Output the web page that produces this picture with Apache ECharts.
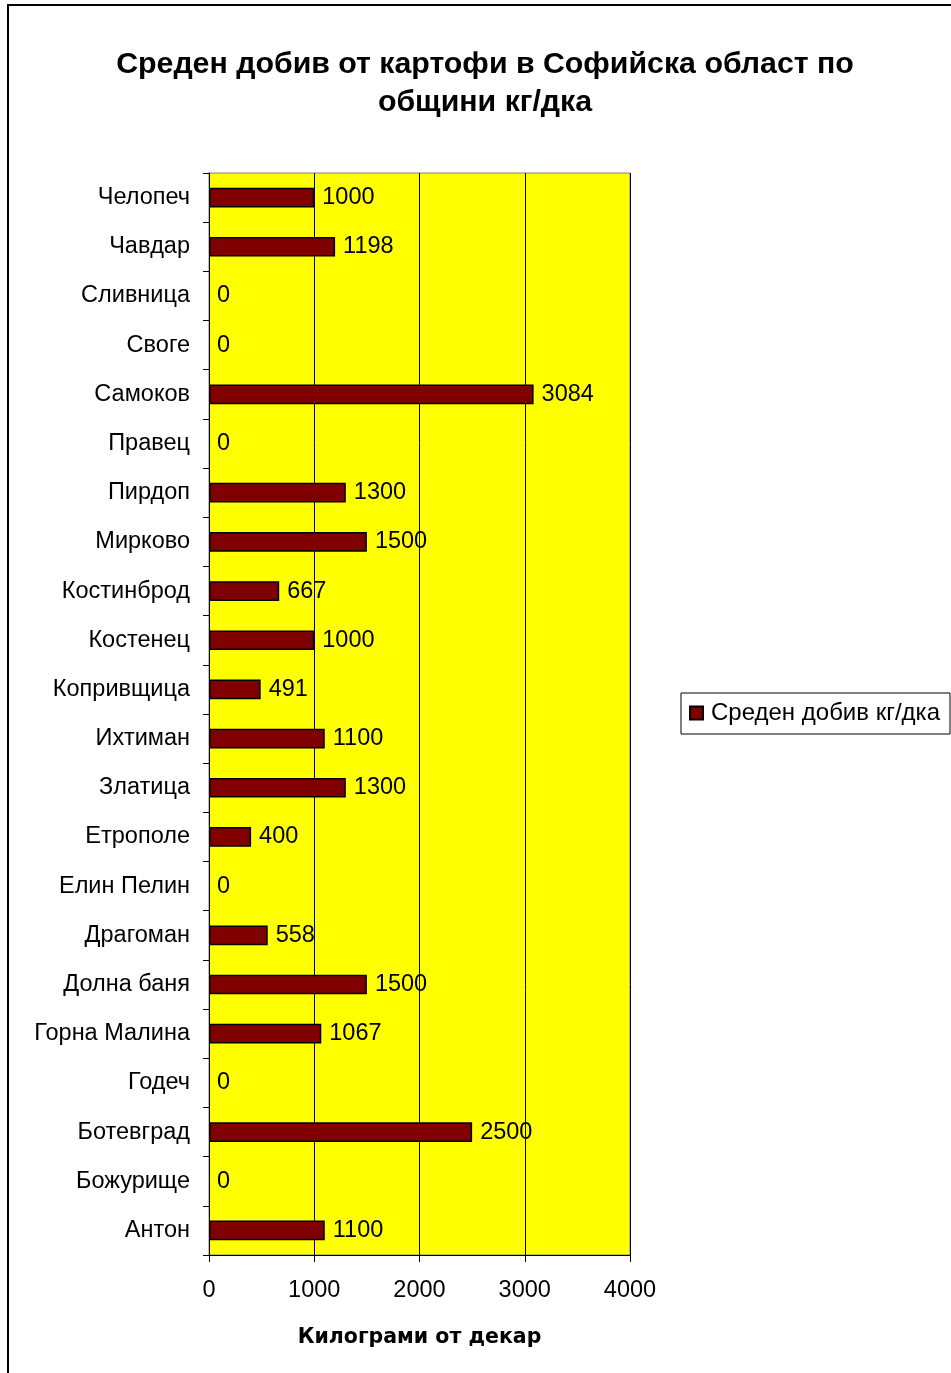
<!DOCTYPE html>
<html>
<head>
<meta charset="utf-8">
<script src="https://cdn.jsdelivr.net/npm/echarts@6/dist/echarts.min.js"></script>
<style>
html,body{margin:0;padding:0;background:#fff;}
#c{width:951px;height:1373px;}
</style>
</head>
<body>
<div id="c"></div>
<script>
const categories = ['Челопеч','Чавдар','Сливница','Своге','Самоков','Правец','Пирдоп','Мирково','Костинброд','Костенец','Копривщица','Ихтиман','Златица','Етрополе','Елин Пелин','Драгоман','Долна баня','Горна Малина','Годеч','Ботевград','Божурище','Антон'];
const values = [1000,1198,0,0,3084,0,1300,1500,667,1000,491,1100,1300,400,0,558,1500,1067,0,2500,0,1100];
const xTicks = [0,1000,2000,3000,4000];
const seriesName = 'Среден добив кг/дка';
const titleText = 'Среден добив от картофи в Софийска област по\nобщини кг/дка';
const xAxisName = 'Килограми от декар';

const FONT = '"Liberation Sans", Arial, sans-serif';
const barData = values.map(v => v === 0
  ? {value:v, itemStyle:{borderWidth:0, opacity:0}, label:{opacity:1}}
  : {value:v});

const chart = echarts.init(document.getElementById('c'), null, {renderer:'canvas'});
chart.setOption({
  animation:false,
  backgroundColor:'#fff',
  textStyle:{fontFamily:FONT},
  title:{
    text:titleText,
    left:480, textAlign:'center', top:41,
    textStyle:{fontFamily:FONT,fontSize:30.3,fontWeight:'bold',color:'#000',lineHeight:38}
  },
  graphic:[{
    type:'rect', shape:{x:8,y:5,width:1000,height:1400},
    style:{fill:null,stroke:'#000',lineWidth:2}, silent:true, z:100
  }],
  legend:{
    data:[seriesName], left:681, top:693,
    orient:'vertical', icon:'rect', itemWidth:13, itemHeight:13, itemGap:0,
    padding:[8,10,9,8],
    borderColor:'#000', borderWidth:1,
    textStyle:{fontFamily:FONT,fontSize:24,color:'#000',padding:[0,0,0,3]}
  },
  grid:{
    left:209, top:173, width:421, height:1082,
    show:true, backgroundColor:'#ffff00', borderColor:'#808080', borderWidth:1,
    containLabel:false
  },
  xAxis:{
    type:'value', min:0, max:4000, interval:1000,
    name:xAxisName, nameLocation:'middle', nameGap:72,
    nameTextStyle:{fontFamily:'"DejaVu Sans", sans-serif',fontSize:20.5,fontWeight:'bold',color:'#000'},
    axisLine:{show:true,lineStyle:{color:'#000',width:1}},
    axisTick:{show:true,length:7,lineStyle:{color:'#000'}},
    axisLabel:{fontFamily:FONT,fontSize:23.5,color:'#000',margin:24,
      formatter:function(v){return xTicks.indexOf(v)>=0?String(v):'';}},
    splitLine:{show:true,lineStyle:{color:'#000',width:1}}
  },
  yAxis:{
    type:'category', data:categories, inverse:true,
    axisLine:{show:true,lineStyle:{color:'#000',width:1}},
    axisTick:{show:true,length:6,lineStyle:{color:'#000'}},
    axisLabel:{fontFamily:FONT,fontSize:23.5,color:'#000',margin:19},
    splitLine:{show:false}
  },
  series:[{
    name:seriesName, type:'bar', data:barData,
    barWidth:'40%',
    itemStyle:{color:'#800000',borderColor:'#000',borderWidth:1.5},
    label:{show:true,position:'right',distance:8,fontFamily:FONT,fontSize:23.5,color:'#000'}
  }]
});
</script>
</body>
</html>
